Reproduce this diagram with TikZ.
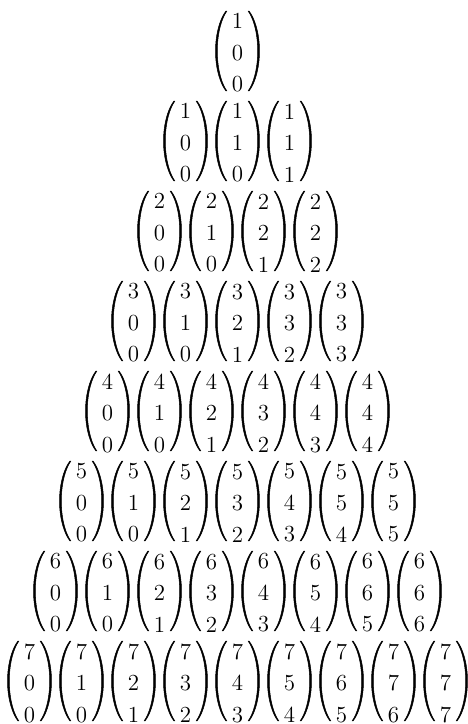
\documentclass[tikz,border=0pt]{standalone}
\usepackage{tikz}
\usetikzlibrary{calc}
\newcommand{\vecparens}[1]{%
  \begin{scope}[shift={($(#1.center)+(0,2)$)}]
    \filldraw[paren] (122:22 and 47) arc[start angle=122, end angle=238, x radius=22, y radius=47]
      -- (238:20.2 and 47) arc[start angle=238, end angle=122, x radius=20.2, y radius=47] -- cycle;
    \filldraw[paren] (-58:22 and 47) arc[start angle=-58, end angle=58, x radius=22, y radius=47]
      -- (58:20.2 and 47) arc[start angle=58, end angle=-58, x radius=20.2, y radius=47] -- cycle;
  \end{scope}}

\begin{document}
\begin{tikzpicture}[x=0.5pt, y=0.5pt, every node/.style={font=\fontsize{11.5}{15.75}\selectfont}]
\tikzset{vec/.style={align=center, inner sep=0pt},
  paren/.style={fill=black, draw=black, line width=0.25pt}}
\useasboundingbox (0,0) rectangle (467,-724);
% top of the triangle
\node[vec] (v0-0) at (237.5,-53) {1\\0\\0};
\vecparens{v0-0}
% rows 1 to 7
\foreach \n in {1,...,7} {
  \pgfmathtruncatemacro{\last}{\n+1}
  \foreach \i in {0,...,\last} {
    \pgfmathtruncatemacro{\mid}{min(\i,\n)}
    \pgfmathtruncatemacro{\bot}{max(\i-1,0)}
    \node[vec] (v\n-\i) at ({237.5+52*(\i-(\n+1)/2)},{-(53+90*\n)}) {\n\\\mid\\\bot};
    \vecparens{v\n-\i}
  }
}
\end{tikzpicture}
\end{document}
